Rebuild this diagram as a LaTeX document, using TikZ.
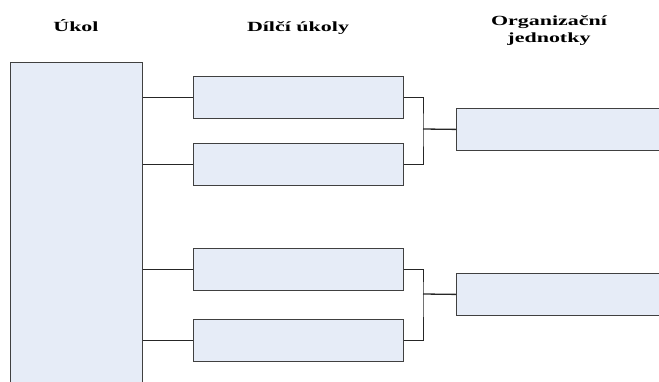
\documentclass[tikz,border=0pt]{standalone}
\usepackage{fontspec}
\setmainfont{Liberation Serif}

\definecolor{boxblue}{HTML}{E6ECF7}
\newcommand{\widetext}[1]{\scalebox{1.57}[1]{#1}}
\tikzset{
  box/.style={draw=black!75, fill=boxblue, line width=0.8pt, rectangle, anchor=north west, inner sep=0pt},
  link/.style={draw=black!85, line width=0.8pt},
  title/.style={font=\bfseries\fontsize{14}{17}\selectfont, align=center, inner sep=0pt}
}

\begin{document}
\begin{tikzpicture}[x=1pt, y=-1pt]
        \useasboundingbox (0,0) rectangle (659,381);
        \clip (0,0) rectangle (659,381);

        % Column headings
        \node[title, anchor=base] (hTask) at (76,31) {\widetext{Úkol}};
        \node[title, anchor=base] (hSub) at (298,31) {\widetext{Dílčí úkoly}};
        \node[title, anchor=base] (hOrg) at (549,42) {\widetext{Organizační}\\\widetext{jednotky}};

        % Task
        \node[box, minimum width=132pt, minimum height=340pt] (task) at (10,62) {};

        % Sub-tasks
        \node[box, minimum width=210pt, minimum height=42pt] (sub1) at (193,76) {};
        \node[box, minimum width=210pt, minimum height=42pt] (sub2) at (193,143) {};
        \node[box, minimum width=210pt, minimum height=42pt] (sub3) at (193,248) {};
        \node[box, minimum width=210pt, minimum height=42pt] (sub4) at (193,319) {};

        % Organisational units
        \node[box, minimum width=230pt, minimum height=42pt] (org1) at (456,108) {};
        \node[box, minimum width=230pt, minimum height=42pt] (org2) at (456,273) {};

        % Task to sub-tasks
        \foreach \s in {sub1,sub2,sub3,sub4}
          \draw[link] (task.east |- \s.west) -- (\s.west);

        % Brackets joining sub-tasks to units
        \coordinate (j1) at (423,129);
        \coordinate (j2) at (423,294);
        \draw[link] (sub1.east) -| (j1) |- (sub2.east);
        \draw[link] (sub3.east) -| (j2) |- (sub4.east);
        \draw[link, line width=1.3pt] (j1) -- (org1.west);
        \draw[link, line width=1.3pt] (j2) -- (org2.west);
\end{tikzpicture}
\end{document}
